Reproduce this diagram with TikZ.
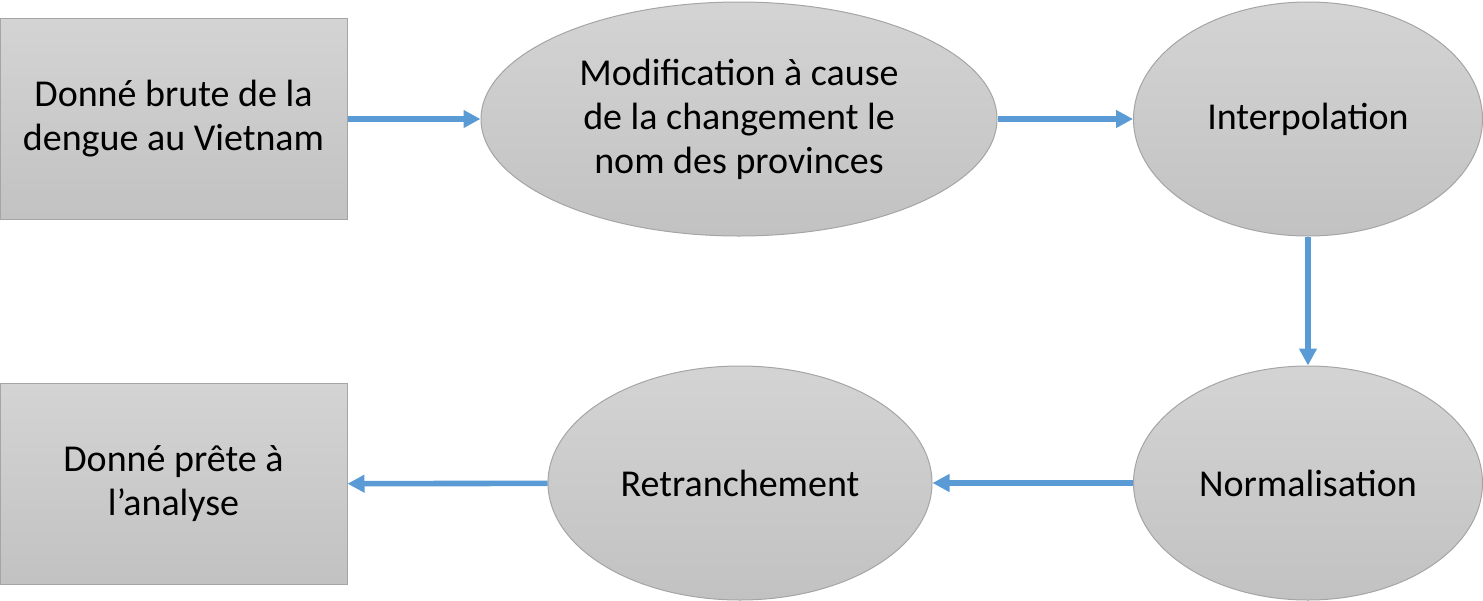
\documentclass[tikz,border=0pt]{standalone}
\usepackage{fontspec}
\setmainfont{Carlito}
\usetikzlibrary{shapes.geometric,arrows.meta}
\definecolor{flowblue}{HTML}{5B9BD5}
\definecolor{edgegray}{HTML}{A5A5A5}
\begin{document}
\begin{tikzpicture}[x=0.5pt,y=-0.5pt]
\tikzstyle{stage}=[
	draw=edgegray, line width=0.5pt,
	top color=black!17, bottom color=black!24,
	inner sep=0pt, align=center,
	font=\fontsize{19}{22}\selectfont ]
\tikzstyle{databox}=[stage, rectangle, minimum width=173.5pt, minimum height=100.5pt]
\tikzstyle{step oval}=[stage, ellipse]
\tikzstyle{flow}=[draw=flowblue, line width=2.8pt, -{Triangle[length=8.5pt,width=8.5pt]}]
\useasboundingbox (0,0) rectangle (1483,600);
\node[databox] (raw) at (173.5,119) {Donné brute de la\\dengue au Vietnam};
\node[step oval, minimum width=258pt, minimum height=117pt] (rename) at (739,119) {Modification à cause\\de la changement le\\nom des provinces};
\node[step oval, minimum width=174.5pt, minimum height=117pt] (interp) at (1308,119) {Interpolation};
\node[step oval, minimum width=174.5pt, minimum height=117pt] (norm) at (1308,483) {Normalisation};
\node[step oval, minimum width=192pt, minimum height=117pt] (trim) at (740,483) {Retranchement};
\node[databox] (ready) at (173.5,484) {Donné prête à\\l’analyse};
\draw[flow] (raw) -- (rename);
\draw[flow] (rename) -- (interp);
\draw[flow] (interp) -- (norm);
\draw[flow] (norm) -- (trim);
\draw[flow] (trim) -- (ready);
\end{tikzpicture}
\end{document}
